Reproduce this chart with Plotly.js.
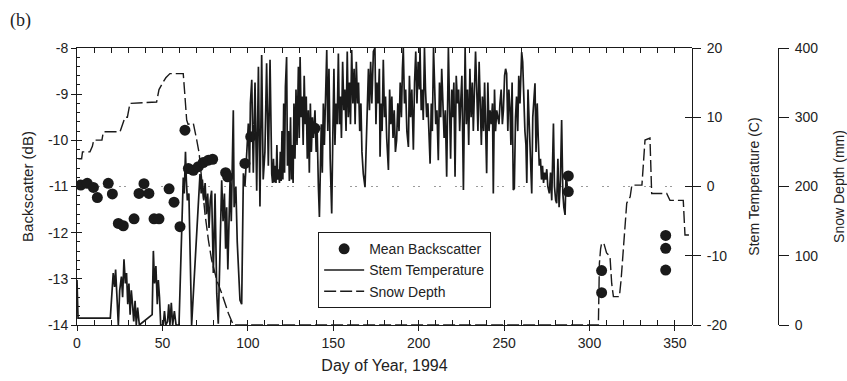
<!DOCTYPE html>
<html>
<head>
<meta charset="utf-8">
<script src="https://cdn.plot.ly/plotly-3.0.1.min.js"></script>
<style>html,body{margin:0;padding:0;background:#fff;}</style>
</head>
<body>
<div id="chart" style="width:847px;height:381px;"></div>
<script>
// ---- Data ----
const bsDay = [2.2, 6, 9.6, 11.9, 18.3, 20.7, 24.2, 27.1, 33.4, 36.3, 39.2, 42.1, 45.1, 48, 53.9, 56.8, 60.3, 63.2, 65.2, 68.1, 71, 73.9, 76.9, 79.4, 87, 88.2, 98.3, 101.7, 139.3, 287.6, 287.6, 307.1, 307.1, 344.6, 344.6, 344.6];
const bsDb  = [-10.97, -10.93, -11.02, -11.24, -10.93, -11.16, -11.80, -11.85, -11.70, -11.15, -10.94, -11.15, -11.70, -11.70, -11.05, -11.34, -11.87, -9.78, -10.61, -10.65, -10.57, -10.48, -10.43, -10.41, -10.70, -10.79, -10.50, -9.92, -9.74, -10.77, -11.11, -12.82, -13.30, -12.06, -12.34, -12.81];

const snowDay = [0.8, 2.7, 3.2, 7.6, 9, 9.8, 14.6, 15.4, 25.2, 26.5, 28.1, 29.5, 31, 46.6, 48, 50.5, 52, 54.4, 62.2, 63.2, 64.2, 65, 68.1, 70.1, 71.5, 73, 74.9, 76.9, 78.8, 81.8, 84.7, 88.6, 91.5, 305.2, 305.8, 306.5, 307.1, 308.4, 310, 312, 313, 314, 317.5, 318.5, 320, 321.8, 323.8, 324.8, 330.7, 332.5, 335.4, 336.4, 345.2, 347.1, 354.9, 355.9, 360];
const snowMm  = [240, 240, 250, 250, 258, 267, 267, 279, 279, 290, 300, 300, 320, 322, 340, 351, 357, 363, 363, 330, 296, 290, 291, 267, 248, 210, 161, 123, 94, 65, 46, 17, 0, 0, 89, 110, 118, 118, 104, 99, 60, 41, 41, 65, 120, 176, 185, 202, 202, 267, 270, 190, 190, 180, 180, 130, 130];

const tempDay = [0, 0.6, 19.5, 20.5, 21.2, 22, 22.6, 23.4, 24.2, 25, 26, 26.7, 27.5, 28.3, 29, 29.7, 30.4, 31.1, 31.8, 32.5, 33.2, 34, 34.7, 35.5, 36.5, 44, 44.7, 45.4, 46.2, 47, 47.6, 48.3, 49, 50.5, 51.2, 52, 53, 53.7, 54.4, 55.2, 56, 57, 58, 59.7,
  60.5, 61.3, 62.2, 62.8, 63.5, 64, 64.6, 65.5, 66.2, 67.1, 68, 69.1, 70, 71, 72, 72.7, 73.4, 74.2, 75, 75.8, 76.5, 77.3, 78, 78.8, 79.8, 80.8, 81.8, 82.7, 83.7, 84.7, 85.5, 86.3, 87, 87.6, 88.3, 89, 89.6, 90.3, 91.5, 92, 93, 93.8, 94.6, 95.4, 96.4, 97.4, 98.3, 99.3, 100.3, 101, 101.5, 102.3, 103.2, 104.2, 105.2, 106.2, 107.1, 108.1, 109, 110, 111, 112, 113,
  114, 114.5, 115, 115.5, 116, 116.5, 117, 117.5, 118, 118.5, 119, 119.5, 120, 120.5, 121, 121.5, 122, 122.7, 123.2, 123.8, 124.3, 125, 125.5, 126, 126.5, 127, 127.6, 128.2, 128.8, 129.6, 130.1, 130.6, 131.2, 131.8, 132.4, 133, 133.6, 134.2, 134.8, 135.4, 136, 136.6, 137.2, 137.8, 138.4, 139.3, 140, 140.6, 141.3, 141.9, 142.5, 143, 143.6, 144.2, 144.8, 145.5, 146.2, 146.8, 147.5, 148.2, 149.1, 149.8, 150.4, 151, 151.6, 152.3, 153, 153.6, 154.2, 154.8, 155.5, 156.2, 156.8, 157.5, 158.2, 158.8, 159.5, 160.1, 160.8, 161.5, 162.2, 162.8, 163.5, 164.2, 164.8, 165.5, 166.2, 166.8, 167.6, 168.6, 169.2, 169.9, 170.6, 171.2, 171.9, 172.6, 173.5, 174.4, 175, 175.6, 176.3, 177, 177.4, 178, 178.6, 179.3, 180, 180.6, 181.3, 182.3, 183, 183.7, 184.3, 185, 185.7, 186.4, 187.1, 187.8, 188.5, 189.2, 189.9, 190.5, 191, 191.7, 192.4, 193.1, 194, 194.6, 195.3, 196, 196.9, 197.6, 198.3, 199, 199.7, 200.4, 200.8, 201.5, 202.1, 202.7, 203.4, 204, 204.7, 205.4, 206, 206.7, 207.4, 208, 208.7, 209.4, 210, 210.7, 211.5, 212.2, 212.9, 213.5, 214.2, 214.9, 215.6, 216.4, 217.4, 218, 218.7, 219.4, 220, 220.6, 221.3, 222, 222.7, 223.4, 224, 224.6, 225.3, 226.2, 227.2, 227.9, 228.6, 229.3, 230, 230.7, 231.4, 232, 232.7, 233.3, 234, 234.7, 235.4, 236, 236.7, 237.3, 238, 238.6, 239.2, 239.8, 240.5, 241.2, 241.8, 242.5, 243.2, 243.7, 244.4, 245, 245.7, 246.3, 247, 247.6, 248.3, 249, 249.6, 250.3, 250.9, 251.5, 252.2, 252.8, 253.5, 254, 254.7, 255.4, 256, 256.7, 257.3, 258, 258.6, 259.3, 260.3, 260.9, 261.5, 262.2, 262.8, 263.3, 264, 264.6, 265.3, 266.2, 266.8, 267.5, 268.1, 268.7, 269.4, 270, 270.6, 271.3, 271.9, 272.5, 273.1, 273.7, 274.3, 275, 275.6, 276.5, 277.2, 277.9, 278.9, 279.5, 280.2, 280.8, 281.5, 282.2, 283, 283.7, 284.4, 285, 285.7, 286.3, 287];
const tempC = [-13.5, -19, -19, -14, -12.5, -14.5, -12, -16, -20, -15, -13, -16, -10.5, -14, -12.5, -17, -14, -18.5, -15, -17, -19.5, -16.5, -20, -17.5, -20, -18.5, -9.3, -14, -11.5, -17, -13.5, -16, -20, -20, -18, -20, -19.5, -17, -20, -16.8, -20, -18, -20, -20,
  -14, -6, 1.3, -1, 5, 1, -2, -1, -8, -20, -16, -11, -6, -2, 1.8, -1, 1, -2, 0.5, -4, -1, -6, -2, -0.6, -12.5, -1, -15.4, -19.8, -8, 0.9, -5, -1, -9, -3, -12, -4, 1, -5, 11, -3, 0, -8, -13, -16.4, -17, 1.9, 0, 4, 9.1, 2, 12, 15.4, 2, 15, -0.6, 17.3, -2.9, 19, 1, 5, 17.8, 3, 18.3,
  1.8, 0.5, 4, 0.6, 3, 0.5, 6, 1, 2.5, 0.5, 5, 0.8, 8, 1, 12, 2, 14.4, 18.7, 3, 8, 0.8, 10, 1, 6, 0.5, 12, 4, 14, 6, 17.3, 7, 18.7, 10, 13, 6, 16, 9, 13, 4, 11, 2, 12, 5, 10, 7, 11, 5, 8, 0, -4.4, 3, 9, 2, 12, 6, 16, 19.7, 8, 17, 4, -3.9, 8, 17, 6, 12, 9, 19.2, 9, 13, 7, 18, 11, 14, 8, 19.5, 10, 15, 9, 19.7, 12, 17, 9, 18, 12, 15, 8, 12, 5, 1.8, -0.1, 6, 12, 17, 11, 18, 12, 19.5, 20, 9, 15, 12, 17, 4.3, 12, 8, 18.3, 10, 13, 7, 2.4, 14, 9, 13, 7, 11, 5, 6.7, 12, 8, 15, 10, 17, 20, 12, 14, 8, 5.7, 16, 10, 14, 5.3, 15, 19.5, 12, 18, 14, 20, 11, 14, 9.6, 20, 14, 10, 12, 6, 3.3, 12, 8, 20, 13, 9, 11, 3.8, 15, 10, 17, 12, 7, 11, 1.4, 20, 11, 4, 14, 10, 15, 1.4, 16, 12, 14, 8, 12, 16, -0.5, 20, 9, 14, 6, 17, 10, 15, 8, 17, 19.5, 14, 8, 18, 12, 6, 13, 8, 15, 10, 1.9, 15, 8, 11, 9, 12, -1, 14, 8, 11, 10, 9, 12, 14, 9, 11, 16, 17, 16.3, 8, 14, 11, 6, 15, -0.5, -0.3, 10, 13, 8, 16, 12, 19.4, 18, 12, 8, 6, 0.5, 14, 10, 7, -1, 10, 12, 14.9, 5, 12, 7, 3, 4, 1, 3, 0.5, 2, 1, 2.5, 0, -1, 2, -2, 9.1, 0, -2, -2.4, 4, -3, 1, 9.6, -1, -3, -4.1, 2, 0];

const xTickVals = [0, 50, 100, 150, 200, 250, 300, 350];
const xTickText = ['0', '50', '100', '150', '200', '250', '300', '350'];
const bsTickVals = [-14, -13, -12, -11, -10, -9, -8];
const bsTickText = ['-14', '-13', '-12', '-11', '-10', '-9', '-8'];
const tempTickVals = [-20, -10, 0, 10, 20];
const tempTickText = ['-20', '-10', '0', '10', '20'];
const snowTickVals = [0, 100, 200, 300, 400];
const snowTickText = ['0', '100', '200', '300', '400'];
const tempRef = 0;

const INK = '#1a1a1a';
const XDOM = [0, 0.8773];
const FAM = 'Liberation Sans, Arial, sans-serif';

const traces = [
  {x: snowDay, y: snowMm, yaxis: 'y3', type: 'scatter', mode: 'lines', name: 'Snow Depth', legendrank: 3,
   line: {color: INK, width: 1.4, dash: '12px,4px'}, hoverinfo: 'skip'},
  {x: tempDay, y: tempC, yaxis: 'y2', type: 'scatter', mode: 'lines', name: 'Stem Temperature', legendrank: 2,
   line: {color: INK, width: 1.7}, hoverinfo: 'skip'},
  {x: bsDay, y: bsDb, type: 'scatter', mode: 'markers', name: 'Mean Backscatter', legendrank: 1,
   marker: {color: INK, size: 11}, hoverinfo: 'skip'},
  {x: [], y: [], xaxis: 'x2', yaxis: 'y4', type: 'scatter', showlegend: false, hoverinfo: 'skip'},
  {x: [], y: [], yaxis: 'y5', type: 'scatter', showlegend: false, hoverinfo: 'skip'}
];

const axisFont = {family: FAM, size: 14, color: '#222'};

const layout = {
  width: 847, height: 381,
  margin: {l: 77, r: 69, t: 48, b: 56, pad: 0},
  paper_bgcolor: '#fff', plot_bgcolor: '#fff',
  font: axisFont,
  showlegend: true,
  legend: {x: 0.344, y: 0.335, xanchor: 'left', yanchor: 'top', bgcolor: '#fff',
           bordercolor: INK, borderwidth: 1, font: {family: FAM, size: 14, color: '#222'},
           tracegroupgap: 0, itemwidth: 40, entrywidth: 150, entrywidthmode: 'pixels'},
  xaxis: {domain: XDOM, range: [0, 360], showgrid: false, zeroline: false, showline: true, linecolor: INK, linewidth: 1,
          mirror: 'allticks', ticks: 'inside', ticklen: 5, tickcolor: INK, tickvals: xTickVals, showticklabels: false,
          minor: {dtick: 10, tick0: 0, ticks: 'inside', ticklen: 3, tickcolor: INK, showgrid: false}},
  xaxis2: {domain: XDOM, range: [0, 360], overlaying: 'x', anchor: 'y', side: 'bottom', showgrid: false, zeroline: false,
           showline: false, ticks: 'outside', ticklen: 5, tickcolor: INK, tickvals: xTickVals, ticktext: xTickText,
           tickfont: axisFont, title: {text: 'Day of Year, 1994', font: {family: FAM, size: 16, color: '#222'}, standoff: 10}},
  yaxis: {range: [-14, -8], showgrid: false, zeroline: false, showline: true, linecolor: INK, linewidth: 1,
          ticks: 'inside', ticklen: 5, tickcolor: INK, tickvals: bsTickVals, showticklabels: false,
          minor: {dtick: 0.2, tick0: -14, ticks: 'inside', ticklen: 3, tickcolor: INK, showgrid: false}},
  yaxis4: {range: [-14, -8], overlaying: 'y', anchor: 'x', side: 'left', showgrid: false, zeroline: false, showline: false,
           ticks: 'outside', ticklen: 5, tickcolor: INK, tickvals: bsTickVals, ticktext: bsTickText, tickfont: axisFont,
           title: {text: 'Backscatter (dB)', font: {family: FAM, size: 15, color: '#222'}, standoff: 10}},
  yaxis2: {range: [-20, 20], overlaying: 'y', anchor: 'free', position: XDOM[1], side: 'right', showgrid: false, zeroline: false,
           showline: true, linecolor: INK, linewidth: 1, ticks: 'outside', ticklen: 8, tickcolor: INK,
           tickvals: tempTickVals, ticktext: tempTickText, tickfont: axisFont, ticklabelstandoff: 3,
           title: {text: 'Stem Temperature (C)', font: {family: FAM, size: 14, color: '#222'}, standoff: 22}},
  yaxis5: {range: [-20, 20], overlaying: 'y', anchor: 'free', position: XDOM[1], side: 'right', showgrid: false, zeroline: false,
           showline: false, ticks: 'inside', ticklen: 7, tickcolor: INK, tickvals: tempTickVals, showticklabels: false},
  yaxis3: {range: [0, 400], overlaying: 'y', anchor: 'free', position: 1, side: 'right', showgrid: false, zeroline: false,
           showline: true, linecolor: INK, linewidth: 1, ticks: 'outside', ticklen: 10, tickcolor: INK,
           tickvals: snowTickVals, ticktext: snowTickText, tickfont: axisFont, ticklabelstandoff: 3,
           title: {text: 'Snow Depth (mm)', font: {family: FAM, size: 14, color: '#222'}, standoff: 18}},
  shapes: [
    {type: 'line', xref: 'x', yref: 'y2', x0: 0, x1: 355, y0: tempRef, y1: tempRef, layer: 'below',
     line: {color: '#9a9a9a', width: 1, dash: '2px,3px,2px,14px'}}
  ],
  annotations: [
    {text: '(b)', xref: 'paper', yref: 'paper', x: -0.099, y: 1.10, xanchor: 'left', yanchor: 'middle', showarrow: false,
     font: {family: 'Liberation Serif, Times New Roman, serif', size: 18, color: '#222'}}
  ]
};

Plotly.newPlot('chart', traces, layout, {staticPlot: true, displayModeBar: false});
</script>
</body>
</html>
